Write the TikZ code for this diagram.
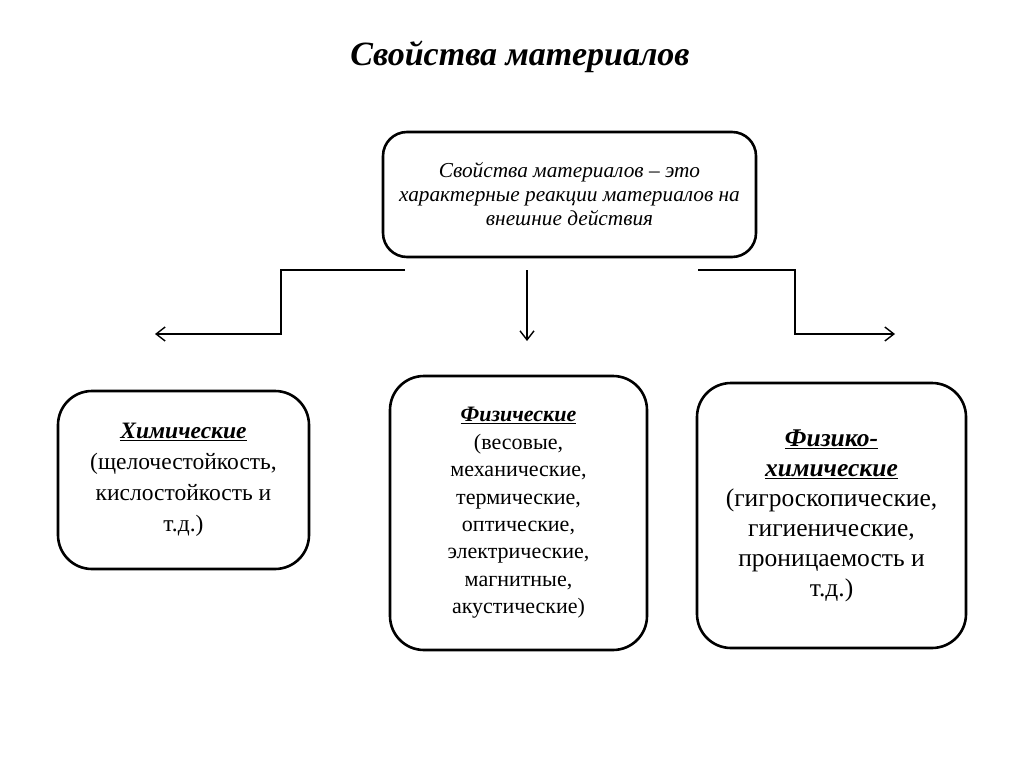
\documentclass[tikz,border=0pt]{standalone}
\usepackage{fontspec}
\setmainfont{Liberation Serif}
\usetikzlibrary{arrows.meta}
\tikzset{
  box/.style={draw, line width=2.6pt, align=center, inner sep=0pt},
  conn/.style={line width=1.4pt, -{Straight Barb[length=9pt,width=14pt,line width=1.4pt]}}
}
\newcommand{\headline}[1]{\textbf{\textit{\underline{#1}}}}

\begin{document}
\begin{tikzpicture}[x=1pt, y=-1pt]
			%%%%% START %%%%%
			\useasboundingbox[fill=white] (0, 0) rectangle (1024, 767);
			
			\node[font=\fontsize{34}{40}\selectfont\bfseries\itshape] (title) at (520, 57) {Свойства материалов};
			
			\node[box, rounded corners=24pt, minimum width=373pt, minimum height=125pt,
				font=\fontsize{21.3}{24}\selectfont\itshape] (def) at (569.5, 194.5)
				{Свойства материалов -- это\\ характерные реакции материалов на\\ внешние действия};
			
			\node[box, rounded corners=34pt, minimum width=251pt, minimum height=178pt,
				font=\fontsize{23.5}{31}\selectfont] (chem) at (183.5, 480)
				{\headline{Химические}\\ (щелочестойкость,\\ кислостойкость и\\ т.д.)};
			
			\node[box, rounded corners=34pt, minimum width=257pt, minimum height=274pt,
				font=\fontsize{22}{27.4}\selectfont] (phys) at (518.5, 513)
				{\headline{Физические}\\ (весовые,\\ механические,\\ термические,\\ оптические,\\ электрические,\\ магнитные,\\ акустические)};
			
			\node[box, rounded corners=34pt, minimum width=269pt, minimum height=265pt,
				font=\fontsize{25.5}{30}\selectfont] (physchem) at (831.5, 515.5)
				{\headline{Физико-}\\ \headline{химические}\\ (гигроскопические,\\ гигиенические,\\ проницаемость и\\ т.д.)};
			
			\coordinate (lstart) at (405, 270);
			\coordinate (lend) at (155, 334);
			\coordinate (mstart) at (527, 270);
			\coordinate (mend) at (527, 341);
			\coordinate (rstart) at (698, 270);
			\coordinate (rend) at (895, 334);
			
			\draw[conn] (lstart) -- ++(-124, 0) |- (lend);
			\draw[conn] (mstart) -- (mend);
			\draw[conn] (rstart) -- ++(97, 0) |- (rend);
			
			%%%%% END %%%%%
		\end{tikzpicture}
\end{document}
